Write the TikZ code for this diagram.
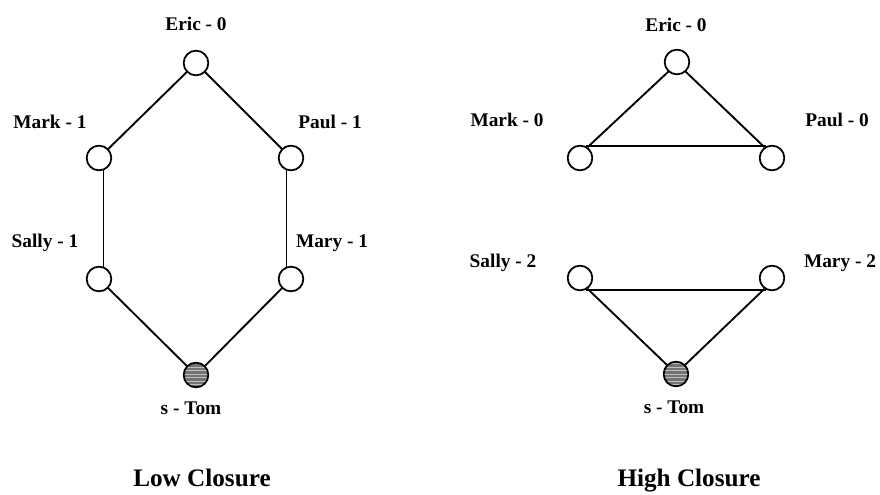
\documentclass[tikz,border=0pt]{standalone}
\usepackage{fontspec}
\setmainfont{Liberation Serif}
\usetikzlibrary{patterns}
\begin{document}
\begin{tikzpicture}[x=0.03cm,y=-0.03cm,
  actor/.style={circle,draw,line width=1.5pt,minimum size=0.74cm,inner sep=0pt,fill=white},
  ego/.style={actor,preaction={fill=black!55},pattern=horizontal lines,pattern color=black!25},
  tie/.style={line width=1.6pt},
  lbl/.style={font=\bfseries\fontsize{16.5}{18}\selectfont,inner sep=0pt},
  heading/.style={font=\bfseries\fontsize{21.5}{24}\selectfont,inner sep=0pt,anchor=base}]
\useasboundingbox (0,0) rectangle (880,494);

% Low closure network
\node[actor] (le) at (196,63) {};
\node[actor] (lm) at (99,158) {};
\node[actor] (lp) at (291,158) {};
\node[actor] (ls) at (99,279) {};
\node[actor] (lr) at (291,279) {};
\node[ego]   (lt) at (196,375) {};

\draw[tie] (le) -- (lm);
\draw[tie] (le) -- (lp);
\draw[tie] (lm.-70) -- (ls.70);
\draw[tie] (lp.-110) -- (lr.110);
\draw[tie] (ls) -- (lt);
\draw[tie] (lr) -- (lt);

\node[lbl] (lel) at (196,24) {Eric - 0};
\node[lbl] (lml) at (50,122) {Mark - 1};
\node[lbl] (lpl) at (330,122) {Paul - 1};
\node[lbl] (lsl) at (45,243) {Sally - 1};
\node[lbl] (lrl) at (332,243) {Mary - 1};
\node[lbl] (ltl) at (191,408) {s - Tom};
\node[heading] (lct) at (202,486) {Low Closure};

% High closure network
\node[actor] (he) at (677,62) {};
\node[actor] (hm) at (580,158) {};
\node[actor] (hp) at (772,158) {};
\node[actor] (hs) at (580,278) {};
\node[actor] (hr) at (772,278) {};
\node[ego]   (ht) at (676,374) {};

\draw[tie] (he.228) -- (hm.55);
\draw[tie] (he.-48) -- (hp.125);
\draw[tie] (hm.62) -- (hp.118);
\draw[tie] (hs.-62) -- (hr.-118);
\draw[tie] (hs.-55) -- (ht.135);
\draw[tie] (hr.-125) -- (ht.45);

\node[lbl] (hel) at (676,25) {Eric - 0};
\node[lbl] (hml) at (507,120) {Mark - 0};
\node[lbl] (hpl) at (837,120) {Paul - 0};
\node[lbl] (hsl) at (503,263) {Sally - 2};
\node[lbl] (hrl) at (840,263) {Mary - 2};
\node[lbl] (htl) at (674,407) {s - Tom};
\node[heading] (hct) at (689,486) {High Closure};
\end{tikzpicture}
\end{document}
